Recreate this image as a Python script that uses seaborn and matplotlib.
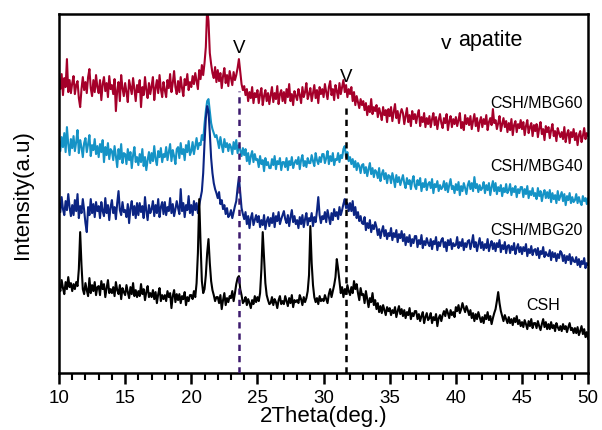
import numpy as np
import pandas as pd
import seaborn as sns
import matplotlib
matplotlib.use('Agg')
import matplotlib.pyplot as plt

# 2Theta grid, 0.1 deg steps from 10 to 50
two_theta = np.round(np.arange(10, 50.001, 0.1), 1)

# intensities (arbitrary units, one row = 1 deg)
csh_mbg60 = [
    292, 284, 299, 278, 295, 286, 314, 281, 293, 280,
    290, 297, 279, 288, 292, 275, 266, 284, 296, 283,
    291, 280, 296, 304, 285, 277, 293, 281, 298, 286,
    280, 293, 273, 289, 296, 282, 290, 276, 297, 284,
    288, 279, 294, 262, 283, 291, 272, 298, 285, 277,
    290, 281, 271, 293, 286, 279, 295, 284, 272, 288,
    281, 293, 266, 286, 278, 296, 283, 275, 290, 279,
    287, 296, 273, 285, 293, 280, 298, 284, 276, 291,
    283, 276, 293, 285, 299, 281, 290, 302, 286, 279,
    292, 281, 296, 285, 277, 294, 288, 299, 283, 291,
    286, 297, 289, 300, 292, 284, 303, 294, 308, 298,
    310, 326, 365, 352, 320, 309, 300, 295, 306, 291,
    303, 292, 300, 285, 297, 305, 290, 298, 287, 302,
    295, 288, 301, 293, 298, 305, 314, 302, 289, 283,
    287, 278, 284, 272, 281, 275, 286, 270, 280, 276,
    283, 270, 279, 285, 268, 277, 283, 272, 280, 269,
    278, 286, 271, 280, 274, 287, 269, 279, 283, 272,
    281, 270, 284, 276, 289, 272, 279, 268, 282, 277,
    273, 284, 278, 270, 286, 276, 281, 290, 274, 279,
    285, 272, 280, 288, 275, 283, 270, 286, 279, 284,
    276, 289, 281, 274, 286, 292, 278, 284, 273, 288,
    282, 275, 290, 279, 286, 293, 281, 288, 276, 284,
    279, 286, 272, 281, 268, 277, 271, 265, 274, 268,
    272, 263, 270, 258, 267, 261, 274, 259, 266, 262,
    268, 256, 265, 260, 253, 266, 258, 263, 251, 264,
    257, 266, 252, 261, 269, 255, 262, 250, 259, 264,
    260, 249, 257, 265, 251, 258, 247, 262, 254, 259,
    250, 258, 263, 247, 256, 251, 260, 246, 255, 249,
    257, 246, 254, 260, 248, 256, 244, 253, 259, 250,
    245, 255, 250, 259, 243, 252, 257, 246, 254, 249,
    256, 247, 253, 260, 245, 251, 243, 258, 249, 255,
    248, 257, 244, 252, 259, 247, 255, 242, 251, 256,
    246, 254, 249, 258, 243, 251, 255, 248, 264, 250,
    253, 244, 250, 257, 242, 249, 255, 246, 252, 241,
    250, 243, 254, 238, 248, 252, 241, 249, 245, 253,
    244, 251, 238, 247, 253, 240, 246, 250, 237, 248,
    242, 249, 236, 245, 251, 239, 244, 233, 247, 241,
    246, 235, 243, 249, 237, 242, 232, 245, 240, 236,
    241, 234, 246, 231, 239, 243, 230, 241, 236, 244,
    233, 240, 228, 238, 242, 231, 237, 245, 234, 240,
    237,
]

csh_mbg40 = [
    232, 222, 236, 226, 240, 221, 246, 229, 218, 234,
    225, 237, 222, 231, 243, 220, 233, 226, 216, 230,
    235, 221, 229, 238, 217, 228, 223, 234, 219, 227,
    216, 229, 221, 233, 211, 226, 218, 230, 214, 224,
    222, 213, 227, 217, 206, 224, 214, 229, 210, 220,
    219, 209, 224, 213, 221, 205, 218, 226, 211, 216,
    208, 219, 211, 224, 207, 216, 203, 213, 221, 210,
    220, 212, 227, 214, 208, 222, 216, 225, 211, 219,
    216, 226, 213, 221, 229, 212, 223, 217, 209, 224,
    226, 215, 230, 219, 224, 213, 228, 221, 232, 218,
    222, 231, 219, 227, 235, 224, 230, 228, 238, 233,
    249, 262, 272, 274, 262, 250, 244, 240, 236, 238,
    232, 225, 236, 228, 221, 234, 226, 230, 222, 229,
    226, 219, 231, 224, 233, 220, 228, 223, 217, 225,
    218, 224, 212, 220, 209, 217, 222, 211, 219, 213,
    214, 206, 217, 209, 213, 202, 215, 208, 211, 205,
    205, 214, 208, 217, 204, 212, 209, 215, 203, 211,
    211, 206, 215, 203, 212, 208, 216, 205, 210, 213,
    209, 216, 204, 213, 218, 207, 212, 206, 215, 210,
    210, 218, 212, 207, 220, 213, 209, 216, 211, 219,
    219, 210, 215, 222, 209, 217, 212, 220, 208, 214,
    213, 220, 211, 218, 215, 224, 227, 216, 221, 212,
    216, 209, 214, 206, 212, 203, 210, 207, 200, 208,
    209, 200, 206, 197, 204, 210, 199, 205, 196, 203,
    201, 195, 205, 192, 199, 203, 194, 200, 190, 198,
    197, 190, 200, 194, 186, 198, 191, 196, 188, 193,
    198, 190, 185, 195, 189, 193, 184, 192, 197, 187,
    184, 193, 188, 195, 182, 190, 186, 194, 183, 189,
    191, 185, 194, 180, 189, 186, 192, 182, 188, 184,
    186, 192, 183, 190, 181, 188, 194, 184, 187, 180,
    189, 183, 191, 178, 187, 182, 190, 185, 179, 188,
    192, 184, 190, 182, 196, 185, 189, 181, 188, 183,
    185, 191, 180, 188, 183, 190, 178, 186, 192, 182,
    190, 179, 186, 182, 188, 177, 185, 181, 189, 180,
    183, 189, 178, 185, 181, 187, 176, 184, 180, 186,
    186, 176, 184, 179, 187, 175, 182, 178, 185, 177,
    180, 174, 185, 177, 182, 172, 179, 183, 175, 181,
    175, 183, 171, 180, 174, 178, 170, 182, 173, 177,
    181, 172, 179, 168, 177, 173, 180, 170, 176, 171,
    173, 179, 170, 176, 171, 168, 177, 172, 175, 169,
    175,
]

csh_mbg20 = [
    170, 161, 176, 164, 158, 172, 163, 179, 166, 157,
    168, 158, 173, 162, 179, 155, 167, 160, 174, 163,
    150, 141, 166, 158, 174, 160, 169, 156, 171, 162,
    167, 155, 171, 162, 157, 175, 160, 168, 153, 166,
    173, 160, 166, 154, 170, 182, 163, 158, 171, 161,
    163, 156, 169, 150, 165, 172, 158, 167, 155, 170,
    158, 170, 161, 167, 155, 176, 162, 153, 168, 160,
    164, 172, 157, 168, 160, 174, 156, 166, 171, 159,
    171, 158, 166, 162, 175, 160, 169, 157, 164, 172,
    165, 159, 184, 162, 170, 156, 168, 163, 177, 160,
    168, 158, 172, 163, 170, 160, 168, 175, 182, 200,
    230, 255, 267, 262, 240, 215, 200, 190, 184, 180,
    175, 181, 169, 173, 164, 168, 159, 165, 156, 158,
    163, 155, 161, 167, 172, 185, 196, 180, 165, 159,
    154, 161, 149, 157, 145, 155, 160, 148, 153, 158,
    151, 157, 146, 153, 148, 158, 144, 152, 156, 147,
    155, 150, 160, 146, 157, 152, 161, 149, 154, 158,
    162, 154, 150, 158, 147, 156, 163, 151, 157, 149,
    153, 145, 156, 149, 158, 146, 154, 160, 148, 155,
    152, 160, 147, 156, 151, 162, 176, 158, 150, 157,
    154, 161, 151, 163, 156, 149, 160, 153, 164, 157,
    161, 154, 166, 158, 163, 169, 174, 165, 170, 162,
    170, 162, 172, 158, 166, 155, 161, 152, 157, 150,
    149, 156, 143, 150, 145, 153, 141, 148, 144, 151,
    146, 138, 144, 135, 142, 147, 137, 143, 134, 140,
    137, 145, 133, 140, 136, 143, 131, 139, 135, 142,
    132, 139, 128, 136, 131, 138, 127, 134, 130, 137,
    137, 126, 133, 129, 138, 125, 132, 128, 135, 130,
    127, 134, 124, 132, 129, 136, 123, 131, 127, 133,
    135, 126, 131, 122, 133, 128, 134, 124, 130, 127,
    128, 136, 125, 131, 127, 134, 123, 130, 126, 132,
    133, 124, 130, 138, 126, 131, 122, 129, 135, 125,
    131, 123, 129, 125, 134, 122, 128, 132, 124, 130,
    122, 130, 126, 133, 121, 128, 124, 131, 120, 127,
    128, 120, 127, 123, 130, 119, 125, 129, 121, 126,
    119, 126, 122, 129, 117, 124, 120, 127, 118, 123,
    124, 118, 125, 115, 122, 119, 126, 116, 121, 118,
    117, 123, 113, 121, 116, 120, 112, 119, 115, 122,
    120, 112, 118, 110, 117, 113, 119, 109, 116, 112,
    111, 116, 108, 114, 106, 112, 109, 115, 105, 110,
    108,
]

csh = [
    88, 82, 93, 85, 79, 91, 84, 96, 86, 90,
    82, 89, 84, 91, 87, 104, 141, 108, 84, 79,
    90, 83, 77, 95, 80, 88, 82, 91, 78, 86,
    87, 78, 92, 84, 89, 76, 85, 93, 80, 84,
    80, 86, 77, 91, 83, 79, 88, 74, 85, 81,
    78, 88, 81, 75, 86, 79, 90, 77, 83, 76,
    82, 77, 89, 79, 84, 73, 81, 87, 76, 80,
    76, 83, 74, 81, 70, 79, 85, 72, 78, 74,
    78, 72, 82, 76, 80, 65, 77, 83, 71, 79,
    73, 79, 70, 77, 74, 81, 68, 76, 72, 78,
    78, 74, 82, 76, 90, 120, 174, 130, 92, 80,
    84, 98, 120, 134, 110, 92, 83, 78, 72, 76,
    76, 70, 78, 64, 73, 80, 68, 75, 71, 77,
    75, 82, 72, 80, 89, 95, 97, 84, 78, 70,
    72, 76, 68, 74, 70, 65, 73, 69, 77, 71,
    76, 72, 80, 104, 141, 115, 90, 78, 73, 69,
    70, 76, 68, 74, 71, 65, 73, 77, 69, 72,
    69, 77, 72, 67, 75, 70, 78, 66, 73, 71,
    73, 70, 78, 74, 68, 76, 71, 75, 82, 98,
    147, 110, 88, 76, 71, 75, 69, 77, 72, 74,
    72, 78, 74, 70, 79, 84, 76, 82, 88, 96,
    114, 104, 92, 80, 86, 76, 84, 79, 88, 82,
    78, 86, 80, 92, 84, 89, 80, 73, 85, 78,
    79, 70, 82, 74, 66, 75, 71, 80, 68, 73,
    64, 70, 61, 67, 60, 68, 63, 58, 66, 62,
    65, 58, 63, 60, 66, 56, 62, 67, 59, 64,
    57, 63, 55, 61, 58, 65, 54, 60, 57, 62,
    62, 54, 59, 52, 57, 61, 50, 56, 60, 53,
    55, 60, 50, 56, 53, 59, 47, 55, 58, 52,
    58, 62, 57, 64, 60, 55, 63, 58, 61, 56,
    66, 62, 68, 60, 64, 70, 65, 61, 67, 63,
    58, 63, 55, 60, 52, 59, 54, 61, 56, 51,
    56, 50, 58, 54, 61, 53, 57, 49, 55, 60,
    64, 72, 81, 70, 62, 57, 52, 58, 54, 50,
    56, 50, 54, 48, 55, 51, 57, 49, 53, 47,
    51, 46, 53, 49, 44, 52, 47, 54, 45, 50,
    50, 45, 52, 47, 43, 49, 54, 46, 51, 44,
    49, 44, 51, 45, 48, 42, 50, 46, 43, 47,
    42, 49, 44, 47, 41, 46, 50, 43, 45, 40,
    45, 40, 46, 38, 42, 47, 39, 44, 36, 41,
    34,
]

series_names = ['CSH/MBG60', 'CSH/MBG40', 'CSH/MBG20', 'CSH']
series_colors = ['#a5002a', '#1593c6', '#0b2483', '#000000']
label_heights = [271, 208, 144, 69]

# apatite reflections (dashed markers)
apatite_peaks = [23.6, 31.7]
apatite_tops = [282, 269]
apatite_colors = ['#3d1a6e', '#000000']
v_heights = [326, 297]

df = pd.DataFrame({'2Theta': two_theta,
                   'CSH/MBG60': csh_mbg60,
                   'CSH/MBG40': csh_mbg40,
                   'CSH/MBG20': csh_mbg20,
                   'CSH': csh})

sns.set_style('ticks')
plt.rcParams['font.family'] = ['Liberation Sans', 'DejaVu Sans']
plt.rcParams['text.color'] = 'black'
plt.rcParams['axes.labelcolor'] = 'black'
plt.rcParams['xtick.color'] = 'black'

fig = plt.figure(figsize=(6.02, 4.31), dpi=100)
ax = fig.add_axes([0.098, 0.132, 0.879, 0.833])

for name, color in zip(series_names, series_colors):
    sns.lineplot(data=df, x='2Theta', y=name, color=color, linewidth=1.5, ax=ax)

for x, top, c in zip(apatite_peaks, apatite_tops, apatite_colors):
    ax.vlines(x, 0, top, colors=c, linestyles=(0, (2.5, 2)), linewidth=1.8, zorder=5)

for x, h in zip(apatite_peaks, v_heights):
    ax.text(x, h, 'V', ha='center', va='center', fontsize=13.5)

ax.text(39.3, 331, 'v', ha='center', va='center', fontsize=15)
ax.text(40.2, 334, 'apatite', ha='left', va='center', fontsize=15.5)

for name, h in zip(series_names[:3], label_heights[:3]):
    ax.text(49.6, h, name, ha='right', va='center', fontsize=11.5)
ax.text(46.6, label_heights[3], 'CSH', ha='center', va='center', fontsize=11.5)

ax.set_xlim(10, 50)
ax.set_ylim(0, 359)
ax.set_xticks(np.arange(10, 51, 5))
ax.set_xticks(np.arange(10, 51, 1), minor=True)
ax.set_yticks([])
ax.tick_params(axis='x', which='major', length=8, width=1.8, labelsize=13.5, direction='out')
ax.tick_params(axis='x', which='minor', length=5, width=1.5, direction='out')
for s in ax.spines.values():
    s.set_linewidth(1.8)
    s.set_color('black')
ax.set_xlabel('2Theta(deg.)', fontsize=16, labelpad=-1)
ax.set_ylabel('Intensity(a.u)', fontsize=16, labelpad=19)

fig.savefig('out.png', dpi=100)
